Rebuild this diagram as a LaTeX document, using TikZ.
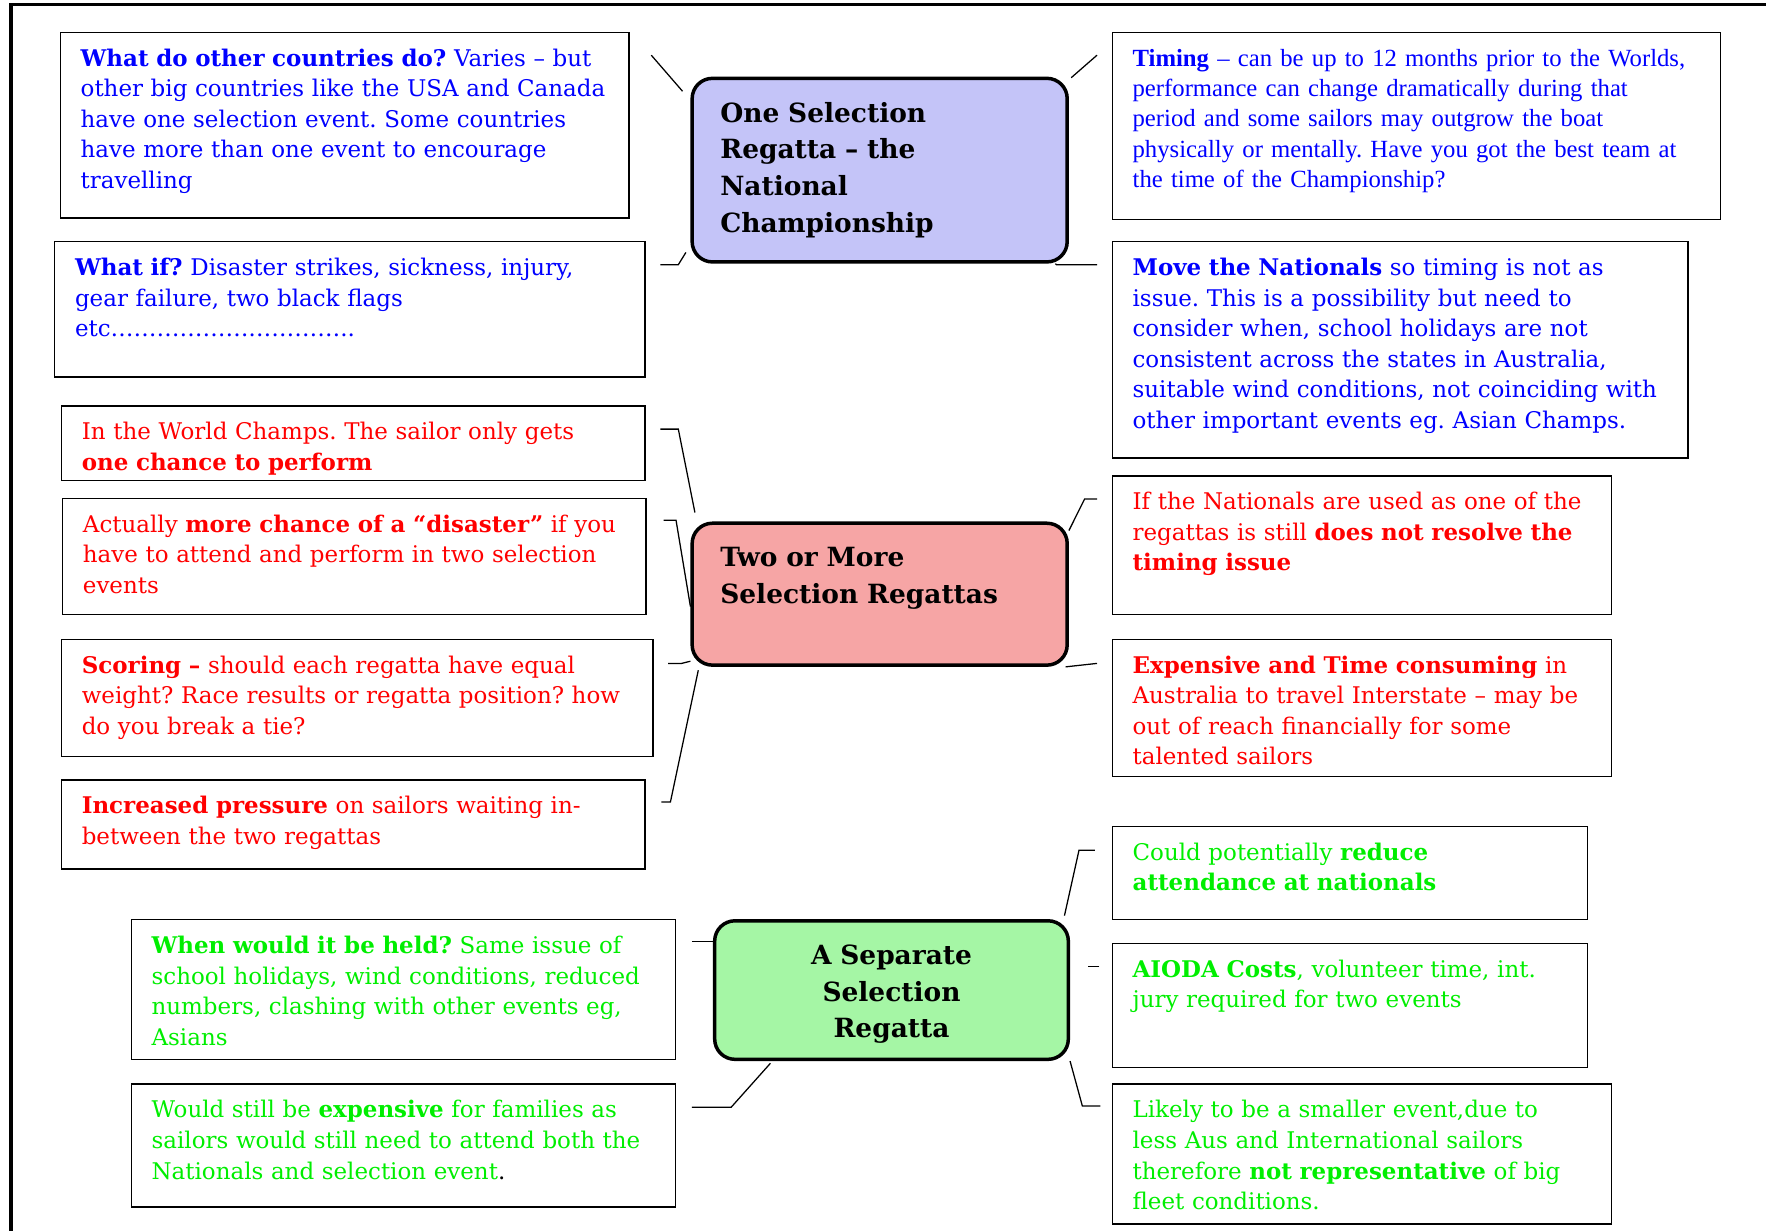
\documentclass[tikz,border=0pt]{standalone}
\usepackage{fontspec}
\setmainfont{DejaVu Serif}
\newfontfamily\timesfont{Liberation Serif}
\frenchspacing
\definecolor{noteblue}{RGB}{0,0,255}
\definecolor{notered}{RGB}{255,0,0}
\definecolor{notegreen}{RGB}{0,238,0}
\definecolor{fillblue}{RGB}{196,196,248}
\definecolor{fillred}{RGB}{246,165,165}
\definecolor{fillgreen}{RGB}{165,246,165}
\tikzset{
  note/.style={draw, line width=0.9pt, anchor=north west, align=left, inner xsep=0.45cm, inner ysep=0pt,
    text height=0.75cm, font=\fontsize{14.5}{19.3}\selectfont},
  topic/.style={draw, line width=2.2pt, rounded corners=0.45cm, anchor=north west, align=left,
    inner xsep=0.625cm, inner ysep=0pt, text height=0.97cm, font=\fontsize{16.7}{23.2}\selectfont\bfseries},
  callout/.style={line width=0.8pt},
}
\begin{document}
\begin{tikzpicture}
\useasboundingbox (0,0) rectangle (39.2,-27.325);
%\draw[help lines] (0,0) grid (39,-27);
\draw[line width=2.4pt] (39.2,-0.1) -- (0.25,-0.1) -- (0.25,-27.325);

% the three options
\node[topic, fill=fillblue, text width=7.075cm, text depth=3.105cm] (one) at (15.325,-1.7)
  {One Selection\\Regatta – the\\National\\Championship};
\node[topic, fill=fillred, text width=7.075cm, text depth=2.18cm] (two) at (15.325,-11.575)
  {Two or More\\Selection Regattas};
\node[topic, fill=fillgreen, align=center, text width=6.6cm, text depth=2.105cm] (separate) at (15.825,-20.4)
  {A Separate\\Selection\\Regatta};

% one selection regatta
\node[note, text=noteblue, text width=11.725cm, text depth=3.375cm] (others) at (1.325,-0.7)
  {\textbf{What do other countries do?} Varies – but\\other big countries like the USA and Canada\\have one selection event. Some countries\\have more than one event to encourage\\travelling};
\node[note, text=noteblue, text width=12.2cm, text depth=2.25cm] (whatif) at (1.2,-5.35)
  {\textbf{What if?} Disaster strikes, sickness, injury,\\gear failure, two black flags\\etc…………………………..};
\node[note, text=noteblue, font=\timesfont\fontsize{15.6}{19.2}\selectfont, text width=12.6cm, text depth=3.4cm] (timing) at (24.675,-0.7)
  {\textbf{Timing} – can be up to 12 months prior to the Worlds,\\performance can change dramatically during that\\period and some sailors may outgrow the boat\\physically or mentally. Have you got the best team at\\the time of the Championship?};
\node[note, text=noteblue, text width=11.875cm, text depth=4.05cm] (move) at (24.675,-5.35)
  {\textbf{Move the Nationals} so timing is not as\\issue. This is a possibility but need to\\consider when, school holidays are not\\consistent across the states in Australia,\\suitable wind conditions, not coinciding with\\other important events eg. Asian Champs.};

% two or more
\node[note, text=notered, text width=12.05cm, text depth=0.9cm] (worlds) at (1.35,-9.0)
  {In the World Champs. The sailor only gets\\\textbf{one chance to perform}};
\node[note, text=notered, text width=12.05cm, text depth=1.825cm] (disaster) at (1.375,-11.05)
  {Actually \textbf{more chance of a “disaster”} if you\\have to attend and perform in two selection\\events};
\node[note, text=notered, text width=12.225cm, text depth=1.85cm] (scoring) at (1.35,-14.175)
  {\textbf{Scoring –} should each regatta have equal\\weight? Race results or regatta position? how\\do you break a tie?};
\node[note, text=notered, text width=12.05cm, text depth=1.225cm] (pressure) at (1.35,-17.3)
  {\textbf{Increased pressure} on sailors waiting in-\\between the two regattas};
\node[note, text=notered, text width=10.175cm, text depth=2.325cm] (resolve) at (24.675,-10.55)
  {If the Nationals are used as one of the\\regattas is still \textbf{does not resolve the}\\\textbf{timing issue}};
\node[note, text=notered, text width=10.175cm, text depth=2.3cm] (expense) at (24.675,-14.175)
  {\textbf{Expensive and Time consuming} in\\Australia to travel Interstate – may be\\out of reach financially for some\\talented sailors};

% separate regatta
\node[note, text=notegreen, text width=11.175cm, text depth=2.35cm] (when) at (2.9,-20.4)
  {\textbf{When would it be held?} Same issue of\\school holidays, wind conditions, reduced\\numbers, clashing with other events eg,\\Asians};
\node[note, text=notegreen, text width=11.175cm, text depth=1.975cm] (families) at (2.9,-24.05)
  {Would still be \textbf{expensive} for families as\\sailors would still need to attend both the\\Nationals and selection event{\color{black}.}};
\node[note, text=notegreen, text width=9.65cm, text depth=1.325cm] (attend) at (24.675,-18.325)
  {Could potentially \textbf{reduce}\\\textbf{attendance at nationals}};
\node[note, text=notegreen, text width=9.65cm, text depth=2.0cm] (aioda) at (24.675,-20.925)
  {\textbf{AIODA Costs}, volunteer time, int.\\jury required for two events};
\node[note, text=notegreen, text width=10.175cm, text depth=2.35cm] (smaller) at (24.675,-24.05)
  {Likely to be a smaller event,due to\\less Aus and International sailors\\therefore \textbf{not representative} of big\\fleet conditions.};

% callout lines
\draw[callout] ([shift={(0.475,-0.525)}]others.north east) -- ([shift={(-0.175,-0.325)}]one.north west);
\draw[callout] ([shift={(0.325,-0.525)}]whatif.north east) -- ++(0.4,0) -- ([shift={(-0.1,0.25)}]one.south west);
\draw[callout] ([shift={(-0.325,-0.525)}]timing.north west) -- ([shift={(0.05,-0.025)}]one.north east);
\draw[callout] ([shift={(-0.325,-0.525)}]move.north west) -- ++(-0.9,0) -- ([shift={(-0.3,0)}]one.south east);
\draw[callout] ([shift={(0.325,-0.525)}]worlds.north east) -- ++(0.4,0) -- ([shift={(0.1,0.2)}]two.north west);
\draw[callout] ([shift={(0.375,-0.5)}]disaster.north east) -- ++(0.275,0) -- ([shift={(0,-0.275)}]two.west);
\draw[callout] ([shift={(0.325,-0.55)}]scoring.north east) -- ++(0.3,0) -- ([shift={(0,0.125)}]two.south west);
\draw[callout] ([shift={(0.35,-0.5)}]pressure.north east) -- ++(0.2,0) -- ([shift={(0.175,-0.075)}]two.south west);
\draw[callout] ([shift={(-0.325,-0.525)}]resolve.north west) -- ++(-0.275,0) -- ([shift={(0,-0.2)}]two.north east);
\draw[callout] ([shift={(-0.325,-0.55)}]expense.north west) -- ([shift={(-0.075,0)}]two.south east);
\draw[callout] ([shift={(0.35,-0.5)}]when.north east) -- ([shift={(0.05,-0.5)}]separate.north west);
\draw[callout] ([shift={(0.35,-0.525)}]families.north east) -- ++(0.875,0) -- ([shift={(1.275,-0.05)}]separate.south west);
\draw[callout] ([shift={(-0.375,-0.55)}]attend.north west) -- ++(-0.35,0) -- ([shift={(-0.125,0.075)}]separate.north east);
\draw[callout] ([shift={(-0.275,-0.525)}]aioda.north west) -- ++(-0.25,0);
\draw[callout] ([shift={(-0.25,-0.5)}]smaller.north west) -- ++(-0.4,0) -- (separate.south east);
\end{tikzpicture}
\end{document}
